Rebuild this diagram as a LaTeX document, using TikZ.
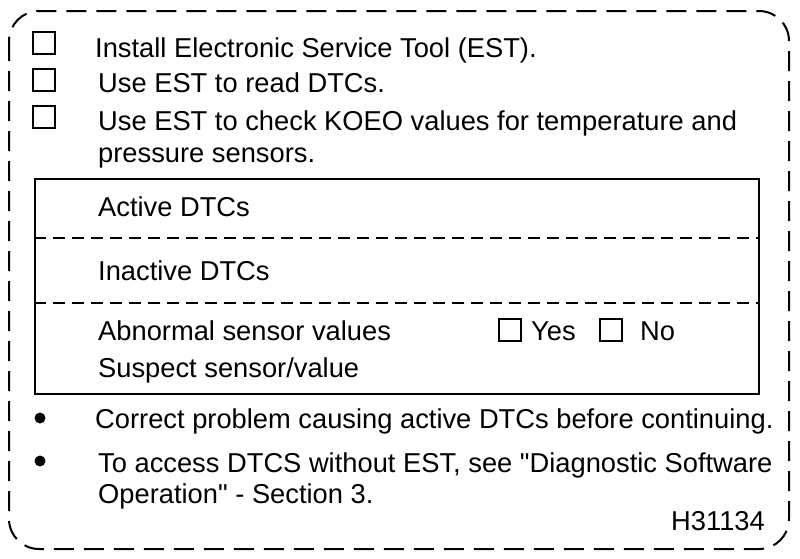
\documentclass[tikz,border=0pt]{standalone}
\usepackage{fontspec}
\newfontfamily\arialfont{Liberation Sans}
\begin{document}
\begin{tikzpicture}[x=1pt,y=-1pt,
  txt/.style={anchor=base west,inner sep=0pt,font=\arialfont\fontsize{27.3}{31}\selectfont},
  cbox/.style={draw,line width=1.8pt,minimum width=22pt,minimum height=22pt,inner sep=0pt},
  bul/.style={fill,circle,minimum size=11pt,inner sep=0pt},
  outer/.style={line width=2pt,dash pattern=on 20pt off 10pt,rounded corners=30pt},
  sep/.style={line width=1.8pt,dash pattern=on 12pt off 7pt}]
\useasboundingbox (0,0) rectangle (800,558);
\draw[outer] (9,11) rectangle (789,549);
% checklist
\node[cbox] (c1) at (44,43) {};
\node[cbox] (c2) at (44,80) {};
\node[cbox] (c3) at (44,117) {};
\node[txt] (t1) at (95,57) {Install Electronic Service Tool (EST).};
\node[txt] (t2) at (98,92) {Use EST to read DTCs.};
\node[txt] (t3) at (98,130) {Use EST to check KOEO values for temperature and};
\node[txt] (t4) at (98,162) {pressure sensors.};
% inner box
\node[draw,line width=2pt,minimum width=724pt,minimum height=215pt,inner sep=0pt,anchor=north west] (box) at (34,178) {};
\coordinate (d1l) at (34,238); \coordinate (d1r) at (758,238);
\coordinate (d2l) at (34,303); \coordinate (d2r) at (758,303);
\draw[sep] (d1l) -- (d1r);
\draw[sep] (d2l) -- (d2r);
\node[txt] (a1) at (98,216) {Active DTCs};
\node[txt] (a2) at (98,280) {Inactive DTCs};
\node[txt] (a3) at (98,340) {Abnormal sensor values};
\node[txt] (a4) at (98,377) {Suspect sensor/value};
\node[cbox] (cy) at (510,330) {};
\node[txt] (yes) at (531,340) {Yes};
\node[cbox] (cn) at (611,330) {};
\node[txt] (no) at (640,340) {No};
% bullets
\node[bul] (b1) at (40,418) {};
\node[bul] (b2) at (40,461) {};
\node[txt] (n1) at (95,428) {Correct problem causing active DTCs before continuing.};
\node[txt] (n2) at (98,472) {To access DTCS without EST, see "Diagnostic Software};
\node[txt] (n3) at (98,503) {Operation" - Section 3.};
\node[txt,anchor=base east] (code) at (765,530) {H31134};
\end{tikzpicture}
\end{document}
